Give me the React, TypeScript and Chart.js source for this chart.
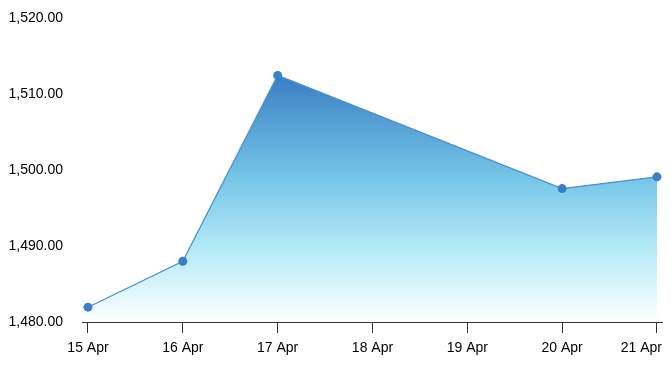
import React, { useEffect, useRef } from "react";
import { Chart, registerables } from "chart.js";

Chart.register(...registerables);

const days = [15, 16, 17, 20, 21];
const values = [1481.95, 1488.0, 1512.45, 1497.55, 1499.1];
const tickDays = [15, 16, 17, 18, 19, 20, 21];
const monthLabel = "Apr";
const yTicks = [1480, 1490, 1500, 1510, 1520];

const FONT = "'Liberation Sans', Arial, sans-serif";
const FONT_SIZE = 14;

export default function App() {
  const ref = useRef<HTMLCanvasElement | null>(null);

  useEffect(() => {
    if (!ref.current) return;
    const xLabelPlugin = {
      id: "xLabels",
      afterDraw(chart: any) {
        const ctx = chart.ctx;
        const xs = chart.scales.x;
        ctx.save();
        ctx.font = `${FONT_SIZE}px ${FONT}`;
        ctx.fillStyle = "#000";
        ctx.textAlign = "left";
        ctx.textBaseline = "alphabetic";
        const rightLimit = 662;
        tickDays.forEach((d) => {
          const txt = `${d} ${monthLabel}`;
          const w = ctx.measureText(txt).width;
          let x = xs.getPixelForValue(d) - w / 2;
          if (x + w > rightLimit) x = rightLimit - w;
          ctx.fillText(txt, x, 352);
        });
        ctx.restore();
      },
    };

    const chart = new Chart(ref.current, {
      type: "line",
      data: {
        datasets: [
          {
            data: days.map((d, i) => ({ x: d, y: values[i] })),
            borderColor: "#4a8ed0",
            borderWidth: 1.2,
            pointRadius: 4.5,
            pointBackgroundColor: "#3a80c8",
            pointBorderWidth: 0,
            pointHoverRadius: 4.5,
            tension: 0,
            fill: "start",
            backgroundColor: (c: any) => {
              const ch = c.chart;
              const area = ch.chartArea;
              if (!area) return "rgba(100,180,230,0.5)";
              const top = ch.scales.y.getPixelForValue(Math.max(...values));
              const g = ch.ctx.createLinearGradient(0, top, 0, area.bottom);
              g.addColorStop(0, "#3a7ec4");
              g.addColorStop(0.4, "#72c3e6");
              g.addColorStop(0.72, "#b8ecf8");
              g.addColorStop(1, "#ffffff");
              return g;
            },
          },
        ],
      },
      options: {
        animation: false,
        responsive: true,
        maintainAspectRatio: false,
        layout: { padding: { top: 18, right: 9, left: 0, bottom: 0 } },
        plugins: { legend: { display: false }, tooltip: { enabled: false } },
        scales: {
          x: {
            type: "linear",
            min: 14.937,
            max: 21.053,
            afterBuildTicks: (s: any) => {
              s.ticks = tickDays.map((v) => ({ value: v }));
            },
            afterFit: (s: any) => {
              s.height = 44;
              s.paddingLeft = 0;
              s.paddingRight = 0;
            },
            grid: {
              display: true,
              drawOnChartArea: false,
              drawTicks: true,
              tickLength: 11,
              color: "#333",
              lineWidth: 1,
            },
            border: { display: true, color: "#333", width: 1 },
            ticks: { display: false },
          },
          y: {
            type: "linear",
            min: 1480,
            max: 1520,
            afterBuildTicks: (s: any) => {
              s.ticks = yTicks.map((v) => ({ value: v }));
            },
            afterFit: (s: any) => {
              s.width = 82;
              s.paddingTop = 0;
              s.paddingBottom = 0;
            },
            grid: { display: false, drawTicks: false },
            border: { display: false },
            ticks: {
              padding: 19,
              color: "#000",
              font: { family: FONT, size: FONT_SIZE },
              callback: (v: any) =>
                Number(v).toLocaleString("en-US", {
                  minimumFractionDigits: 2,
                  maximumFractionDigits: 2,
                }),
            },
          },
        },
      },
      plugins: [xLabelPlugin],
    } as any);
    return () => chart.destroy();
  }, []);

  return (
    <div style={{ position: "fixed", left: 0, top: 0, width: 671, height: 366 }}>
      <canvas ref={ref} />
    </div>
  );
}
